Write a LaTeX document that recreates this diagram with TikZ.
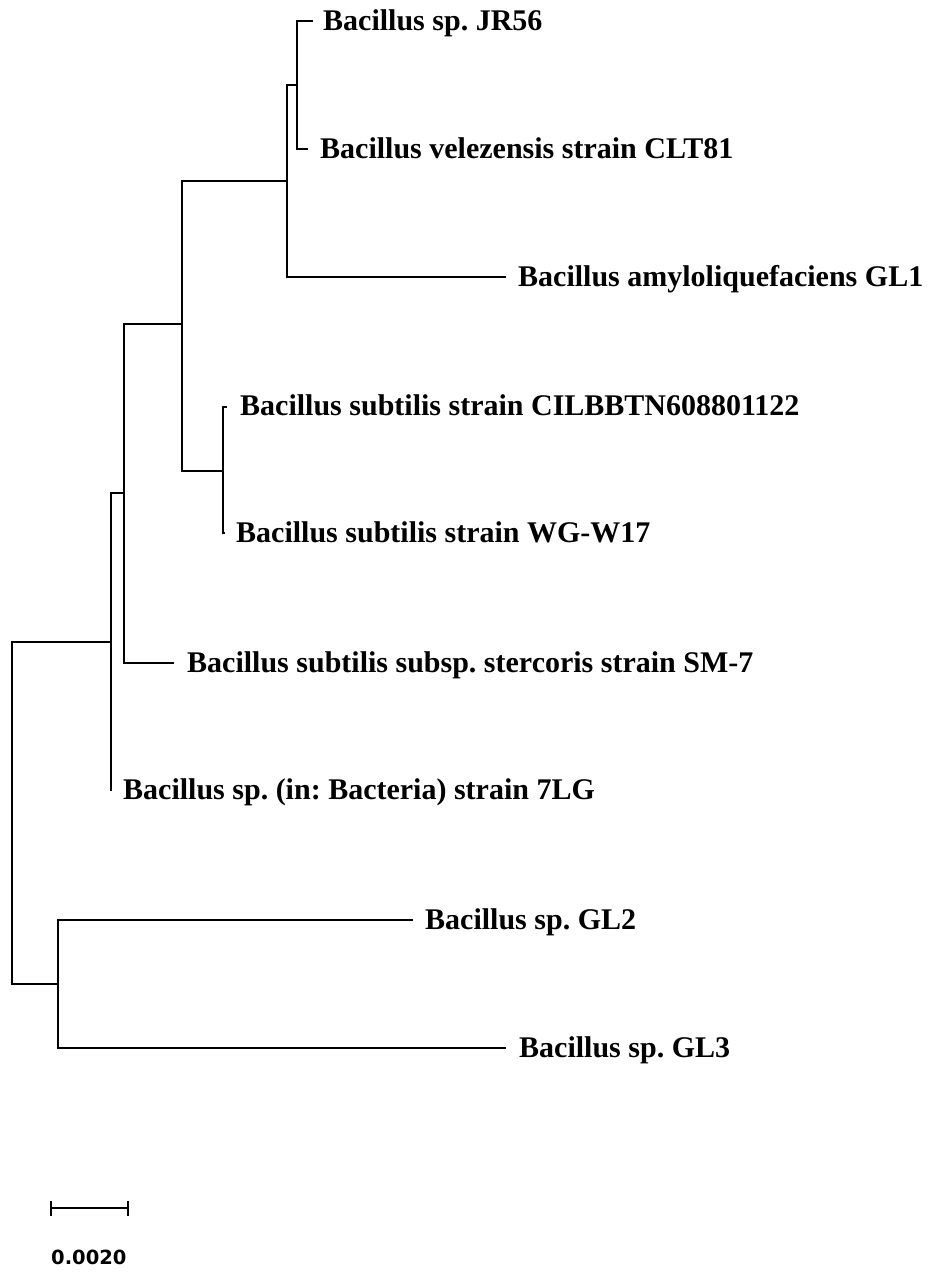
\documentclass[tikz,border=0pt]{standalone}
\usepackage{fontspec}
\setmainfont{Liberation Serif}
\newfontfamily\barfont{DejaVu Sans}
\frenchspacing
\begin{document}
\begin{tikzpicture}[x=1pt,y=-1pt,
  branch/.style={line width=1.3pt,line cap=rect,black},
  leaf/.style={inner sep=0pt,anchor=base west,font=\bfseries\fontsize{30}{36}\selectfont},
  barlabel/.style={inner sep=0pt,anchor=base west,font=\barfont\bfseries\fontsize{19.5}{23}\selectfont}]
\useasboundingbox (0,0) rectangle (930,1272);
% internal nodes (x = node position, y = height where its parent's branch arrives)
\coordinate (r)  at (12,800);
\coordinate (n1) at (111,642);
\coordinate (n2) at (124,493);
\coordinate (n3) at (182,324);
\coordinate (n4) at (287,181);
\coordinate (n5) at (223,471);
\coordinate (n6) at (297,85);
\coordinate (n7) at (58,984);
% leaf tips
\coordinate (tJR)  at (312,21);
\coordinate (tCLT) at (307,149);
\coordinate (tGL1) at (505,277);
\coordinate (tCIL) at (226,407);
\coordinate (tWG)  at (224,533);
\coordinate (tSM)  at (173,663);
\coordinate (t7LG) at (111,790);
\coordinate (tGL2) at (412,920);
\coordinate (tGL3) at (505,1048);
% labels
\node[leaf] (lJR)  at ([xshift=11pt,yshift=-9pt]tJR)  {Bacillus sp. JR56};
\node[leaf] (lCLT) at ([xshift=13pt,yshift=-9.5pt]tCLT) {Bacillus velezensis strain CLT81};
\node[leaf] (lGL1) at ([xshift=13pt,yshift=-9.5pt]tGL1) {Bacillus amyloliquefaciens GL1};
\node[leaf] (lCIL) at ([xshift=14pt,yshift=-8pt]tCIL) {Bacillus subtilis strain CILBBTN608801122};
\node[leaf] (lWG)  at ([xshift=12pt,yshift=-9.5pt]tWG)  {Bacillus subtilis strain WG-W17};
\node[leaf] (lSM)  at ([xshift=14pt,yshift=-9.5pt]tSM)  {Bacillus subtilis subsp. stercoris strain SM-7};
\node[leaf] (l7LG) at ([xshift=12pt,yshift=-9.5pt]t7LG) {Bacillus sp. (in: Bacteria) strain 7LG};
\node[leaf] (lGL2) at ([xshift=13pt,yshift=-9.5pt]tGL2) {Bacillus sp. GL2};
\node[leaf] (lGL3) at ([xshift=14pt,yshift=-9.5pt]tGL3) {Bacillus sp. GL3};
% verticals (from first child to last child)
\draw[branch] (r |- n1) -- (r |- n7);
\draw[branch] (n1 |- n2) -- (n1 |- t7LG);
\draw[branch] (n2 |- n3) -- (n2 |- tSM);
\draw[branch] (n3 |- n4) -- (n3 |- n5);
\draw[branch] (n4 |- n6) -- (n4 |- tGL1);
\draw[branch] (n5 |- tCIL) -- (n5 |- tWG);
\draw[branch] (n6 |- tJR) -- (n6 |- tCLT);
\draw[branch] (n7 |- tGL2) -- (n7 |- tGL3);
% horizontals (parent to child)
\draw[branch] (r |- n1) -- (n1);
\draw[branch] (r |- n7) -- (n7);
\draw[branch] (n1 |- n2) -- (n2);
\draw[branch] (n2 |- n3) -- (n3);
\draw[branch] (n2 |- tSM) -- (tSM);
\draw[branch] (n3 |- n4) -- (n4);
\draw[branch] (n3 |- n5) -- (n5);
\draw[branch] (n4 |- n6) -- (n6);
\draw[branch] (n4 |- tGL1) -- (tGL1);
\draw[branch] (n5 |- tCIL) -- (tCIL);
\draw[branch] (n5 |- tWG) -- (tWG);
\draw[branch] (n6 |- tJR) -- (tJR);
\draw[branch] (n6 |- tCLT) -- (tCLT);
\draw[branch] (n7 |- tGL2) -- (tGL2);
\draw[branch] (n7 |- tGL3) -- (tGL3);
% scale bar
\coordinate (sbL) at (51,1208);
\coordinate (sbR) at (128,1208);
\draw[branch,line cap=butt] (sbL) -- (sbR);
\draw[branch,line cap=butt] ([yshift=7.5pt]sbL) -- ([yshift=-7.5pt]sbL);
\draw[branch,line cap=butt] ([yshift=7.5pt]sbR) -- ([yshift=-7.5pt]sbR);
\node[barlabel] (sbT) at (51,1264) {0.0020};
\end{tikzpicture}
\end{document}
